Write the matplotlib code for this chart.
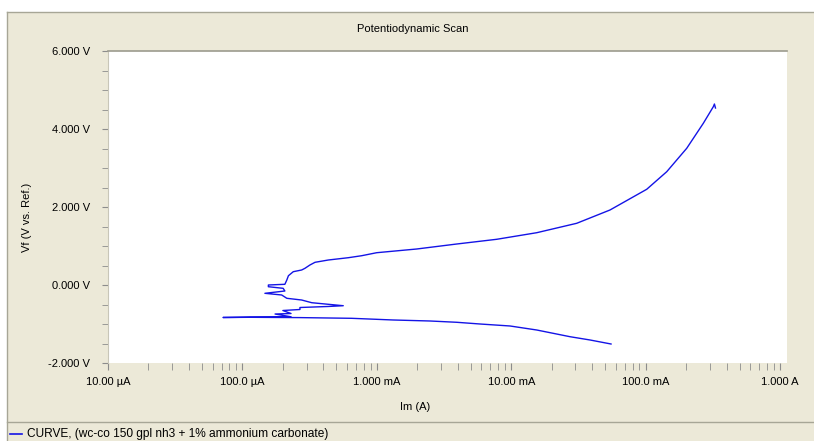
import numpy as np
import matplotlib.pyplot as plt
from matplotlib.ticker import FixedLocator, MultipleLocator, NullFormatter, LogLocator
from matplotlib.patches import Rectangle
from matplotlib.lines import Line2D

plt.rcParams['font.family'] = ['Liberation Sans', 'DejaVu Sans']

# scan: current (A) and potential (V vs. Ref.)
current = [0.0553, 0.0386, 0.0274, 0.01549, 0.00980, 0.00586, 0.00393, 0.00249,
           0.00132, 6.50e-4, 2.68e-4, 1.14e-4, 7.17e-5,
           2.30e-4, 1.75e-4, 2.30e-4, 2.00e-4, 2.68e-4, 2.68e-4, 4.33e-4, 5.63e-4,
           4.36e-4, 3.28e-4, 2.76e-4, 2.14e-4, 1.96e-4, 1.47e-4, 2.07e-4, 2.01e-4,
           1.56e-4, 1.56e-4, 2.07e-4, 2.14e-4, 2.20e-4, 2.39e-4, 2.76e-4, 2.92e-4,
           3.18e-4, 3.47e-4, 4.36e-4, 6.14e-4, 7.72e-4, 9.98e-4, 1.98e-3, 0.00393,
           7.80e-3, 0.01549, 0.0307, 0.0543, 0.1019, 0.1436, 0.2022, 0.2687,
           0.319, 0.325, 0.331]
potential = [-1.513, -1.410, -1.326, -1.154, -1.051, -1.000, -0.956, -0.923,
             -0.897, -0.854, -0.836, -0.828, -0.833,
             -0.815, -0.744, -0.731, -0.654, -0.628, -0.577, -0.551, -0.531,
             -0.495, -0.454, -0.385, -0.341, -0.256, -0.213, -0.154, -0.085,
             -0.044, 0.000, 0.018, 0.128, 0.238, 0.341, 0.385, 0.428,
             0.513, 0.582, 0.641, 0.700, 0.751, 0.828, 0.923, 1.051,
             1.172, 1.341, 1.582, 1.923, 2.454, 2.905, 3.505, 4.146,
             4.572, 4.641, 4.538]

x_ticks = [1e-5, 1e-4, 1e-3, 1e-2, 1e-1, 1.0]
x_labels = ['10.00 µA', '100.0 µA', '1.000 mA', '10.00 mA', '100.0 mA', '1.000 A']
y_ticks = [-2, 0, 2, 4, 6]
y_labels = ['%.3f V' % v for v in y_ticks]

bg = '#ECE9D8'
edge = '#A7A696'
tick_c = '#8C8C8C'

fig = plt.figure(figsize=(8.14, 4.41), dpi=100, facecolor=bg)
W, H = 814.0, 441.0

# white strips at the top and left, thin grey border lines
fig.patches.append(Rectangle((0, 1 - 12 / H), 1, 12 / H, transform=fig.transFigure,
                             facecolor='white', edgecolor='none', zorder=-5))
fig.patches.append(Rectangle((0, 0), 7 / W, 1, transform=fig.transFigure,
                             facecolor='white', edgecolor='none', zorder=-5))
fig.lines.append(Line2D([7 / W, 1], [1 - 12 / H, 1 - 12 / H], transform=fig.transFigure,
                        color=edge, lw=1))
fig.lines.append(Line2D([7 / W, 7 / W], [0, 1 - 12 / H], transform=fig.transFigure,
                        color=edge, lw=1))
fig.lines.append(Line2D([7 / W, 1], [1 - 422 / H, 1 - 422 / H], transform=fig.transFigure,
                        color=edge, lw=1))

ax = fig.add_axes([108 / W, 1 - 363 / H, (787 - 108) / W, (363 - 51) / H])
ax.set_zorder(2)
ax.set_facecolor('white')
ax.plot(current, potential, color='#1414E6', lw=1.0)

ax.set_xscale('log')
ax.set_xlim(1e-5, 1.127)
ax.set_ylim(-2, 6)

ax.xaxis.set_major_locator(FixedLocator(x_ticks))
ax.set_xticks(x_ticks)
ax.set_xticklabels(x_labels)
ax.xaxis.set_minor_locator(LogLocator(base=10, subs=np.arange(2, 10), numticks=20))
ax.xaxis.set_minor_formatter(NullFormatter())
ax.set_yticks(y_ticks)
ax.set_yticklabels(y_labels)
ax.yaxis.set_minor_locator(MultipleLocator(0.5))

ax.tick_params(axis='both', which='both', direction='out', color=tick_c,
               labelsize=8, labelcolor='black')
ax.tick_params(axis='x', which='major', length=5, pad=5)
ax.tick_params(axis='x', which='minor', length=5)
ax.tick_params(axis='y', which='both', length=4, pad=9)

for s in ['right', 'bottom']:
    ax.spines[s].set_visible(False)
ax.spines['top'].set_color('#9C9B8E')
ax.spines['left'].set_color('#C8C6B8')
ax.spines['top'].set_linewidth(1.2)

fig.text(0.507, 1 - 29 / H, 'Potentiodynamic Scan', ha='center', va='center', fontsize=8)
fig.text(0.510, 1 - 407 / H, 'Im (A)', ha='center', va='center', fontsize=8)
fig.text(27 / W, 1 - 217 / H, 'Vf (V vs. Ref.)', ha='center', va='center',
         rotation=90, fontsize=8)

fig.lines.append(Line2D([10 / W, 22 / W], [1 - 434 / H, 1 - 434 / H], transform=fig.transFigure,
                        color='#1414E6', lw=1.2))
fig.text(27 / W, 1 - 434 / H, 'CURVE, (wc-co 150 gpl nh3 + 1% ammonium carbonate)',
         ha='left', va='center', fontsize=8.6)

fig.savefig('out.png', dpi=100, facecolor=fig.get_facecolor())
